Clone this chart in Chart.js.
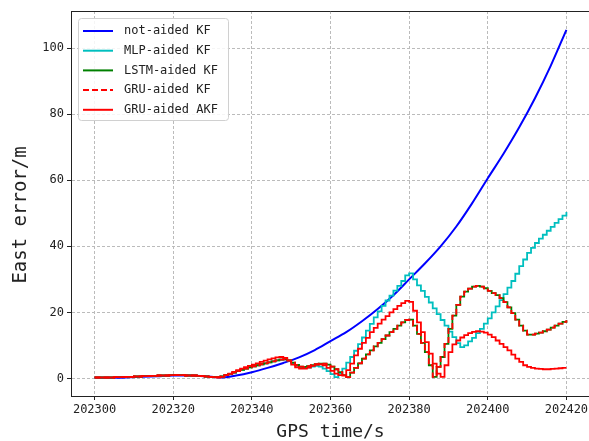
<!DOCTYPE html>
<html>
<head>
<meta charset="utf-8">
<script src="https://cdn.jsdelivr.net/npm/chart.js@4"></script>
<style>
  html, body { margin: 0; padding: 0; background: #fff; overflow: hidden; }
  #wrap { width: 630px; height: 441px; }
</style>
</head>
<body>
<div id="wrap"><canvas id="myChart"></canvas></div>
<script>
// data, one value per second from 202300
const t0 = 202300;
const xTicks = [202300, 202320, 202340, 202360, 202380, 202400, 202420];
const yTicks = [0, 20, 40, 60, 80, 100];

// not-aided KF is smooth, read every 4 s
const notAidedTimes = [202300, 202304, 202308, 202312, 202316, 202320, 202324, 202328, 202332, 202336,
    202340, 202344, 202348, 202352, 202356, 202360, 202364, 202368, 202372, 202376,
    202380, 202384, 202388, 202392, 202396, 202400, 202404, 202408, 202412, 202416, 202420];
const notAided = [0.2, 0.2, 0.3, 0.5, 0.7, 0.9, 0.9, 0.7, 0.3, 0.9,
    1.9, 3.2, 4.7, 6.4, 8.6, 11.3, 14.0, 17.3, 21.0, 25.2,
    30.0, 34.8, 40.0, 46.0, 53.0, 60.6, 68.0, 76.0, 84.8, 94.6, 105.5];

const mlpKF = [
    0.3, 0.3, 0.3, 0.3, 0.3, 0.4, 0.4, 0.4, 0.5, 0.5,
    0.6, 0.6, 0.7, 0.7, 0.8, 0.8, 0.9, 0.9, 0.9, 1.0,
    1.0, 1.0, 1.0, 0.9, 0.9, 0.9, 0.8, 0.7, 0.6, 0.5,
    0.4, 0.4, 0.6, 1.0, 1.4, 1.8, 2.2, 2.6, 3.0, 3.4,
    3.7, 4.0, 4.3, 4.6, 4.9, 5.2, 5.5, 5.7, 5.8, 5.5,
    4.6, 3.9, 3.4, 3.2, 3.3, 3.6, 3.8, 3.6, 3.0, 2.2,
    1.3, 0.4, 1.5, 3.0, 4.8, 6.5, 8.4, 10.4, 12.4, 14.5,
    16.5, 18.5, 20.3, 22.0, 23.6, 25.1, 26.6, 28.0, 29.5, 31.2,
    31.8, 30.0, 28.2, 26.5, 24.7, 23.0, 21.2, 19.5, 17.7, 16.0,
    14.2, 12.5, 10.7, 9.5, 10.0, 11.2, 12.3, 13.7, 15.0, 16.6,
    18.2, 20.0, 21.8, 23.7, 25.5, 27.5, 29.5, 31.7, 34.0, 36.0,
    38.0, 39.5, 41.0, 42.3, 43.5, 44.7, 45.9, 47.1, 48.2, 49.3,
    50.4];

const lstmKF = [
    0.3, 0.3, 0.3, 0.3, 0.3, 0.4, 0.4, 0.4, 0.5, 0.5,
    0.6, 0.6, 0.7, 0.7, 0.8, 0.8, 0.9, 0.9, 0.9, 1.0,
    1.0, 1.0, 1.0, 0.9, 0.9, 0.9, 0.8, 0.7, 0.6, 0.5,
    0.4, 0.4, 0.6, 1.0, 1.4, 1.8, 2.2, 2.6, 3.0, 3.4,
    3.7, 4.0, 4.3, 4.6, 4.9, 5.2, 5.5, 5.7, 5.8, 5.5,
    4.8, 4.1, 3.6, 3.5, 3.7, 4.0, 4.3, 4.5, 4.5, 4.2,
    3.6, 2.8, 1.9, 1.0, 0.4, 1.8, 3.2, 4.6, 6.0, 7.3,
    8.5, 9.7, 10.8, 11.9, 13.0, 14.0, 15.0, 16.0, 17.0, 17.7,
    17.8, 16.0, 13.5, 10.8, 8.0, 4.0, 0.5, 3.5, 6.5, 10.5,
    15.0, 19.0, 22.3, 24.8, 26.3, 27.2, 27.8, 28.0, 27.8, 27.3,
    26.5, 25.8, 25.2, 24.3, 23.1, 21.5, 19.8, 17.8, 16.0, 14.5,
    13.3, 13.3, 13.6, 13.9, 14.3, 14.8, 15.4, 16.0, 16.6, 17.1,
    17.6];

// sits right on top of the LSTM curve
const gruKF = [
    0.3, 0.3, 0.3, 0.3, 0.3, 0.4, 0.4, 0.4, 0.5, 0.5,
    0.6, 0.6, 0.7, 0.7, 0.8, 0.8, 0.9, 0.9, 0.9, 1.0,
    1.0, 1.0, 1.0, 0.9, 0.9, 0.9, 0.8, 0.7, 0.6, 0.5,
    0.4, 0.4, 0.6, 1.0, 1.4, 1.8, 2.2, 2.6, 3.0, 3.4,
    3.7, 4.0, 4.3, 4.6, 4.9, 5.2, 5.5, 5.7, 5.8, 5.5,
    4.8, 4.1, 3.6, 3.5, 3.7, 4.0, 4.3, 4.5, 4.5, 4.2,
    3.6, 2.8, 1.9, 1.0, 0.4, 1.8, 3.2, 4.6, 6.0, 7.3,
    8.5, 9.7, 10.8, 11.9, 13.0, 14.0, 15.0, 16.0, 17.0, 17.7,
    17.8, 16.0, 13.5, 10.8, 8.0, 4.0, 0.5, 3.5, 6.5, 10.5,
    15.0, 19.0, 22.3, 24.8, 26.3, 27.2, 27.8, 28.0, 27.8, 27.3,
    26.5, 25.8, 25.2, 24.3, 23.1, 21.5, 19.8, 17.8, 16.0, 14.5,
    13.3, 13.3, 13.6, 13.9, 14.3, 14.8, 15.4, 16.0, 16.6, 17.1,
    17.6];

const gruAKF = [
    0.3, 0.3, 0.3, 0.3, 0.3, 0.4, 0.4, 0.4, 0.5, 0.5,
    0.6, 0.6, 0.7, 0.7, 0.8, 0.8, 0.9, 0.9, 0.9, 1.0,
    1.0, 1.0, 1.0, 0.9, 0.9, 0.9, 0.8, 0.7, 0.6, 0.5,
    0.4, 0.3, 0.5, 1.0, 1.5, 2.0, 2.5, 3.0, 3.4, 3.8,
    4.2, 4.6, 5.0, 5.4, 5.8, 6.1, 6.4, 6.5, 6.2, 5.4,
    4.2, 3.4, 3.0, 3.0, 3.3, 3.8, 4.2, 4.3, 4.0, 3.2,
    2.3, 1.5, 1.0, 0.9, 2.5, 4.5, 7.0, 9.0, 10.8, 12.3,
    14.0, 15.3, 16.6, 17.8, 18.9, 20.0, 21.0, 22.0, 22.8, 23.5,
    23.2, 20.5, 17.0, 14.0, 11.0, 7.5, 4.5, 1.5, 0.5, 4.0,
    8.0, 10.3, 11.5, 12.4, 13.1, 13.7, 14.1, 14.3, 14.2, 13.9,
    13.3, 12.5, 11.5, 10.5, 9.5, 8.5, 7.2, 6.0, 5.0, 4.0,
    3.5, 3.2, 3.0, 2.9, 2.8, 2.8, 2.9, 3.0, 3.1, 3.2,
    3.2];

function perSecond(values) {
    return values.map((v, i) => ({ x: t0 + i, y: v }));
}

Chart.defaults.font.family = "'DejaVu Sans Mono', monospace";
Chart.defaults.color = '#222';

// matplotlib style legend box in the upper left corner
const legendBox = {
    id: 'legendBox',
    afterDraw(chart) {
        const ctx = chart.ctx;
        const x = 78, y = 18, w = 150, h = 102;
        ctx.save();
        ctx.fillStyle = 'rgba(255,255,255,0.85)';
        ctx.strokeStyle = '#d0d0d0';
        ctx.lineWidth = 1;
        ctx.beginPath();
        ctx.roundRect(x + 0.5, y + 0.5, w, h, 3);
        ctx.fill();
        ctx.stroke();
        ctx.font = "12px 'DejaVu Sans Mono'";
        ctx.textBaseline = 'middle';
        chart.data.datasets.forEach((ds, i) => {
            const ly = 31 + i * 19.7;
            ctx.strokeStyle = ds.borderColor;
            ctx.lineWidth = 2;
            ctx.setLineDash(ds.borderDash || []);
            ctx.beginPath();
            ctx.moveTo(83, ly);
            ctx.lineTo(113, ly);
            ctx.stroke();
            ctx.setLineDash([]);
            ctx.fillStyle = '#222';
            ctx.fillText(ds.label, 124, ly);
        });
        ctx.restore();
    }
};

// top spine (the right one falls just outside the window)
const frame = {
    id: 'frame',
    afterDatasetsDraw(chart) {
        const { ctx, chartArea } = chart;
        ctx.save();
        ctx.strokeStyle = '#222';
        ctx.lineWidth = 1;
        ctx.beginPath();
        ctx.moveTo(chartArea.left, chartArea.top + 0.5);
        ctx.lineTo(chartArea.right, chartArea.top + 0.5);
        ctx.stroke();
        ctx.restore();
    }
};

new Chart(document.getElementById('myChart'), {
    type: 'line',
    data: {
        datasets: [
            {
                label: 'not-aided KF',
                data: notAidedTimes.map((t, i) => ({ x: t, y: notAided[i] })),
                borderColor: '#0000ff',
                borderWidth: 2,
                cubicInterpolationMode: 'monotone',
                order: 5
            },
            {
                label: 'MLP-aided KF',
                data: perSecond(mlpKF),
                borderColor: '#00bfbf',
                borderWidth: 1.8,
                stepped: true,
                order: 4
            },
            {
                label: 'LSTM-aided KF',
                data: perSecond(lstmKF),
                borderColor: '#008000',
                borderWidth: 1.8,
                stepped: true,
                order: 3
            },
            {
                label: 'GRU-aided KF',
                data: perSecond(gruKF),
                borderColor: '#ff0000',
                borderWidth: 1.8,
                borderDash: [6, 3],
                stepped: true,
                order: 2
            },
            {
                label: 'GRU-aided AKF',
                data: perSecond(gruAKF),
                borderColor: '#ff0000',
                borderWidth: 1.8,
                stepped: true,
                order: 1
            }
        ]
    },
    options: {
        responsive: true,
        maintainAspectRatio: false,
        animation: false,
        elements: { point: { radius: 0 } },
        layout: { padding: { top: 11, right: 40, left: 0, bottom: 0 } },
        plugins: { legend: { display: false }, tooltip: { enabled: false } },
        scales: {
            x: {
                type: 'linear',
                min: 202294,
                max: 202426,
                afterBuildTicks: s => { s.ticks = xTicks.map(v => ({ value: v })); },
                afterFit: s => { s.height = 45; },
                ticks: { callback: v => String(v), maxRotation: 0, autoSkip: false, padding: 3, font: { size: 12 } },
                grid: { color: '#bbbbbb', tickColor: '#222', tickLength: 4, lineWidth: 1 },
                border: { color: '#222', dash: [3, 2] },
                title: { display: true, text: 'GPS time/s', font: { size: 18, lineHeight: 1 }, padding: { top: 0, bottom: 0 } }
            },
            y: {
                min: -5.3,
                max: 111.2,
                afterBuildTicks: s => { s.ticks = yTicks.map(v => ({ value: v })); },
                afterFit: s => { s.width = 71; },
                ticks: { callback: v => String(v), padding: 3, font: { size: 12 } },
                grid: { color: '#bbbbbb', tickColor: '#222', tickLength: 4, lineWidth: 1 },
                border: { color: '#222', dash: [3, 2] },
                title: { display: true, text: 'East error/m  ', font: { size: 19, lineHeight: 1 }, padding: { top: 12, bottom: 0 } }
            }
        }
    },
    plugins: [legendBox, frame]
});
</script>
</body>
</html>
